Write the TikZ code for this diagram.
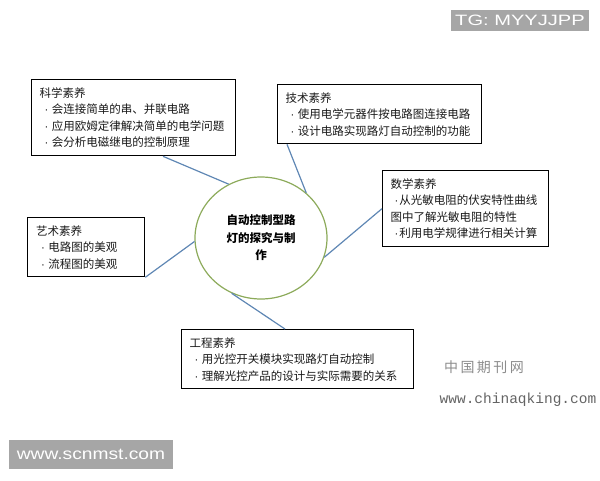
\documentclass[tikz,border=0pt]{standalone}
\usepackage{fontspec}
\setmainfont{Liberation Sans}
\newfontfamily\cjk{Noto Sans CJK SC}
\newfontfamily\cjkwm[LetterSpace=17]{Noto Sans CJK SC}
\newfontfamily\arialf{Liberation Sans}
\newfontfamily\monof{Liberation Mono}
\usetikzlibrary{shapes.geometric,calc}
\definecolor{linkblue}{RGB}{95,135,180}
\definecolor{ringgreen}{RGB}{140,170,90}
\definecolor{wmgray}{RGB}{166,166,166}
\definecolor{txtdark}{RGB}{25,25,25}
\newcommand{\myitem}{\hspace*{5pt}{\arialf ·}\hspace{3.5pt}}
\newcommand{\myitemb}{\hspace*{4pt}{\arialf ·}\hspace{1pt}}
\begin{document}
\begin{tikzpicture}[x=1pt,y=-1pt,
  box/.style={draw=black, line width=1.3pt, fill=white, anchor=north west,
    align=left, inner xsep=8pt, inner ysep=3pt, text=txtdark,
    font=\cjk\fontsize{11.5}{16.5}\selectfont},
  link/.style={draw=linkblue, line width=1.2pt},
  wm/.style={fill=wmgray, text=white, inner sep=0pt}]
\path[use as bounding box] (0,0) rectangle (600,480);

\node[box, minimum width=204pt, minimum height=76pt, text width=188pt] (kexue) at (31,79)
  {科学素养\\\myitem 会连接简单的串、并联电路\\\myitem 应用欧姆定律解决简单的电学问题\\\myitem 会分析电磁继电的控制原理};
\node[box, minimum width=204pt, minimum height=59pt, text width=188pt] (jishu) at (277,84)
  {技术素养\\\myitem 使用电学元器件按电路图连接电路\\\myitem 设计电路实现路灯自动控制的功能};
\node[box, minimum width=166pt, minimum height=76pt, text width=150pt, inner xsep=8pt] (shuxue) at (382,170)
  {数学素养\\\myitemb 从光敏电阻的伏安特性曲线\\图中了解光敏电阻的特性\\\myitemb 利用电学规律进行相关计算};
\node[box, minimum width=117pt, minimum height=59pt, text width=100pt] (yishu) at (27,217)
  {艺术素养\\\myitem 电路图的美观\\\myitem 流程图的美观};
\node[box, minimum width=232pt, minimum height=59pt, text width=216pt] (gongcheng) at (181,329)
  {工程素养\\\myitem 用光控开关模块实现路灯自动控制\\\myitem 理解光控产品的设计与实际需要的关系};

\node[ellipse, draw=ringgreen, line width=1.2pt, minimum width=132pt, minimum height=122pt,
  align=center, text=black, font=\cjk\bfseries\fontsize{11.5}{17.5}\selectfont] (core) at (261,238)
  {自动控制型路\\灯的探究与制\\作};

\draw[link] ([xshift=132pt]kexue.south west) -- (core.121.4);
\draw[link] ([xshift=10pt]jishu.south west) -- (core.45);
\draw[link] (shuxue.west) -- (core.-17);
\draw[link] (yishu.south east) -- (core.183.5);
\draw[link] (core.-118) -- ([xshift=104pt]gongcheng.north west);

\node[wm, minimum width=138pt, minimum height=21pt, font=\arialf\fontsize{15}{15}\selectfont] (tg) at (520,20.5)
  {\scalebox{1.34}[1]{TG: MYYJJPP}};
\node[wm, minimum width=164pt, minimum height=29pt, font=\arialf\fontsize{16}{16}\selectfont] (scn) at (91,454.5)
  {\scalebox{1.2}[1]{www.scnmst.com}};
\node[text={rgb,255:red,140;green,140;blue,140}, inner sep=0pt, font=\cjkwm\fontsize{14}{14}\selectfont] (cnq) at (484,367) {中国期刊网};
\node[text={rgb,255:red,100;green,100;blue,100}, inner sep=0pt, font=\monof\fontsize{14.5}{14.5}\selectfont] (cnqurl) at (518,400) {www.chinaqking.com};
\end{tikzpicture}
\end{document}
